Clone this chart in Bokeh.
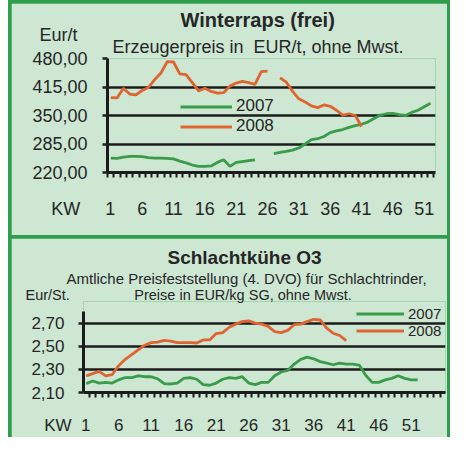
import numpy as np
from bokeh.plotting import figure
from bokeh.models import (Range1d, FixedTicker, CustomJSTickFormatter,
                          Legend, LegendItem, Title)
from bokeh.layouts import column
from bokeh.embed import file_html
from bokeh.resources import INLINE

# ---------------- data ----------------
weeks = list(range(1, 53))

raps_2007 = [253, 252, 255, 257, 257, 256, 254, 253, 253, 252,
             251, 246, 242, 237, 234, 234, 235, 243, 249, 234,
             243, 245, 247, 249, None, None, 263, 266, 268, 271,
             276, 285, 295, 297, 302, 311, 315, 318, 323, 327,
             330, 335, 343, 351, 354, 355, 352, 350, 357, 362,
             370, 378]
raps_2008 = [391, 390, 412, 399, 397, 407, 414, 432, 447, 473,
             472, 445, 443, 425, 406, 412, 405, 401, 402, 417,
             424, 428, 425, 421, 450, 451, None, 436, 426, 405,
             388, 381, 372, 368, 374, 371, 362, 351, 354, 350,
             325, None, None, None, None, None, None, None, None, None,
             None, None]

kuehe_2007 = [2.177, 2.20, 2.182, 2.188, 2.182, 2.21, 2.23, 2.229, 2.245, 2.237,
              2.237, 2.218, 2.177, 2.174, 2.182, 2.223, 2.23, 2.215, 2.168, 2.163,
              2.182, 2.215, 2.229, 2.223, 2.237, 2.182, 2.168, 2.188, 2.188, 2.245,
              2.278, 2.292, 2.347, 2.388, 2.407, 2.393, 2.368, 2.355, 2.341, 2.355,
              2.347, 2.347, 2.338, 2.25, 2.188, 2.188, 2.21, 2.223, 2.245, 2.223,
              2.21, 2.21]
kuehe_2008 = [2.245, 2.264, 2.283, 2.245, 2.256, 2.333, 2.388, 2.429, 2.47, 2.511,
              2.533, 2.538, 2.552, 2.547, 2.533, 2.533, 2.533, 2.53, 2.557, 2.557,
              2.612, 2.62, 2.667, 2.694, 2.716, 2.722, 2.703, 2.694, 2.675, 2.629,
              2.62, 2.64, 2.689, 2.694, 2.716, 2.736, 2.73, 2.66, 2.615, 2.595,
              2.55, None, None, None, None, None, None, None, None, None,
              None, None]

raps_ticks = [220, 285, 350, 415, 480]
kuehe_ticks = [2.10, 2.30, 2.50, 2.70]
kw_labels = [1, 6, 11, 16, 21, 26, 31, 36, 41, 46, 51]

# ---------------- style ----------------
BG = "#cde7d3"
BORDER = "#2f9e4c"
C07 = "#3a9c4a"
C08 = "#df6430"
DARK = "#1c1c1c"
TXT = "#262626"
FONT = "Liberation Sans"
NB = "\u00a0"


def arr(v):
    return np.array([np.nan if x is None else x for x in v], dtype=float)


def make_panel(width, height, xr, yr, ticks, minor, mb, ylab_size, xlab_size,
               ylab_standoff, xlab_standoff, decimals, ybounds=None):
    p = figure(width=width, height=height, x_range=Range1d(*xr), y_range=Range1d(*yr),
               output_backend="svg", toolbar_location=None,
               min_border_left=mb[0], min_border_right=mb[1],
               min_border_top=mb[2], min_border_bottom=mb[3])
    p.title = None
    p.border_fill_color = BG
    p.background_fill_color = BG
    p.outline_line_color = None
    p.xgrid.visible = False
    p.ygrid.ticker = FixedTicker(ticks=ticks)
    p.ygrid.grid_line_color = DARK
    p.ygrid.grid_line_width = 2.5
    ya = p.yaxis[0]
    ya.ticker = FixedTicker(ticks=ticks, minor_ticks=[])
    ya.formatter = CustomJSTickFormatter(
        code="return tick.toFixed(%d).replace('.', ',');" % decimals)
    if ybounds is not None:
        ya.bounds = ybounds
    ya.axis_line_color = DARK
    ya.axis_line_width = 3
    ya.major_tick_line_color = DARK
    ya.major_tick_line_width = 2.5
    ya.major_tick_out = 5
    ya.major_tick_in = 0
    ya.minor_tick_line_color = None
    ya.major_label_text_font = FONT
    ya.major_label_text_font_size = ylab_size
    ya.major_label_text_color = TXT
    ya.major_label_standoff = ylab_standoff
    xa = p.xaxis[0]
    xa.ticker = FixedTicker(ticks=kw_labels, minor_ticks=minor)
    xa.axis_line_color = DARK
    xa.axis_line_width = 3
    xa.major_tick_line_color = None
    xa.major_tick_out = 0
    xa.major_tick_in = 0
    xa.minor_tick_line_color = DARK
    xa.minor_tick_line_width = 2
    xa.minor_tick_out = 5
    xa.minor_tick_in = 0
    xa.major_label_text_font = FONT
    xa.major_label_text_font_size = xlab_size
    xa.major_label_text_color = TXT
    xa.major_label_standoff = xlab_standoff
    return p


def add_title(p, text, size, offset, standoff, bold=False):
    p.add_layout(Title(text=text, align="left", offset=offset, standoff=standoff,
                       text_font=FONT, text_font_size=size,
                       text_font_style="bold" if bold else "normal",
                       text_color=TXT), "above")


def add_legend(p, r07, r08, loc, gw, gh, size, standoff):
    lg = Legend(items=[LegendItem(label="2007", renderers=[r07]),
                       LegendItem(label="2008", renderers=[r08])],
                location=loc, orientation="vertical")
    lg.background_fill_alpha = 0
    lg.border_line_color = None
    lg.padding = 0
    lg.margin = 0
    lg.spacing = 0
    lg.glyph_width = gw
    lg.glyph_height = gh
    lg.label_height = gh
    lg.label_standoff = standoff
    lg.label_text_font = FONT
    lg.label_text_font_size = size
    lg.label_text_color = TXT
    p.add_layout(lg)


# ---------------- top panel: Winterraps ----------------
minor_top = [w + 0.5 for w in range(0, 53)]
p1 = make_panel(436, 232, (0.47, 52.8), (220, 480), raps_ticks, minor_top,
                (96, 12, 55, 63), "18px", "18px", 15, 21, 2)
r1a = p1.line(weeks, arr(raps_2007), line_color=C07, line_width=2.8)
r1b = p1.line(weeks, arr(raps_2008), line_color=C08, line_width=2.8)
add_legend(p1, r1a, r1b, (73, 36), 52, 19, "17px", 4)
# unit above the top tick label, "KW" in front of the first week label
p1.yaxis[0].major_label_overrides = {raps_ticks[-1]: "Eur/t" + NB * 2 + "\n480,00\n" + NB}
p1.xaxis[0].major_label_overrides = {kw_labels[0]: "KW" + NB * 5 + "1" + NB * 11}
add_title(p1, "Erzeugerpreis in " + NB + "EUR/t, ohne Mwst.", "18px", 5, 4)
add_title(p1, "Winterraps (frei)", "20px", 73, 3, bold=True)
p1.margin = (3, 3, 0, 3)

# ---------------- bottom panel: Schlachtkühe ----------------
minor_bot = [w + 0.5 for w in range(1, 57)]
p2 = make_panel(436, 199, (0.585, 56.28), (2.10, 2.8906), kuehe_ticks, minor_bot,
                (72, 2, 63, 40), "17px", "17px", 14, 18, 2, ybounds=(2.10, 2.80))
r2a = p2.line(weeks, arr(kuehe_2007), line_color=C07, line_width=2.8)
r2b = p2.line(weeks, arr(kuehe_2008), line_color=C08, line_width=2.8)
add_legend(p2, r2a, r2b, (273, 53), 48, 17, "15px", 4)
p2.xaxis[0].major_label_overrides = {kw_labels[0]: "KW" + NB * 2 + "1" + NB * 8}
add_title(p2, "Eur/St." + NB * 16 + "Preise in EUR/kg SG, ohne Mwst.", "14.5px", -58, -3)
add_title(p2, "Amtliche Preisfeststellung (4. DVO) für Schlachtrinder,", "15px", -17, 0)
add_title(p2, "Schlachtkühe O3", "19px", 84, -1, bold=True)
p2.margin = (3, 3, 0, 3)

layout = column(column(p1), column(p2), spacing=0, margin=(0, 0, 0, 8),
                styles={"background-color": BORDER})

open("out.html", "w").write(file_html(layout, INLINE))
